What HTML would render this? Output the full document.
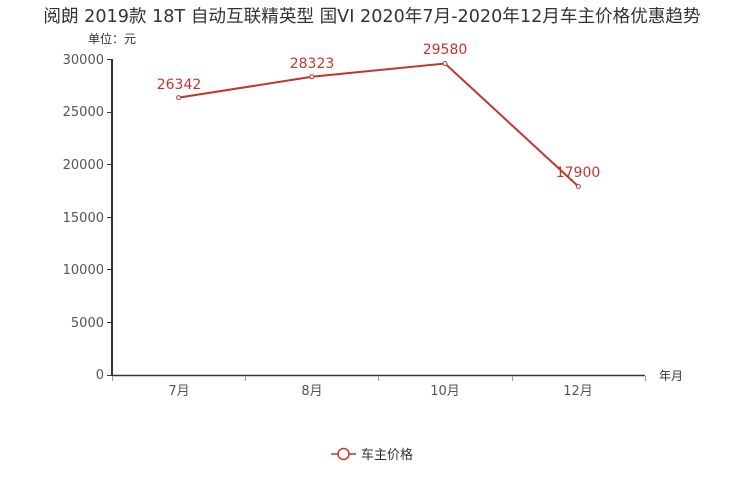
<!DOCTYPE html>
<html><head><meta charset="utf-8"><style>body{margin:0;background:#fff}</style></head><body>
<svg width="744" height="496" xmlns="http://www.w3.org/2000/svg" font-family="'DejaVu Sans','Noto Sans CJK SC',sans-serif">
<text x="372" y="22" text-anchor="middle" font-size="17.6" fill="#333">阅朗 2019款 18T 自动互联精英型 国VI 2020年7月-2020年12月车主价格优惠趋势</text>
<text x="112" y="43" text-anchor="middle" font-size="12" fill="#333">单位：元</text>
<g font-size="13" fill="#555" text-anchor="end">
<text x="104" y="64">30000</text><text x="104" y="116">25000</text><text x="104" y="169">20000</text>
<text x="104" y="222">15000</text><text x="104" y="274">10000</text><text x="104" y="327">5000</text><text x="104" y="379">0</text>
</g>
<g stroke="#333" stroke-width="1">
<line x1="107" y1="59.5" x2="112" y2="59.5"/><line x1="107" y1="112.5" x2="112" y2="112.5"/><line x1="107" y1="164.5" x2="112" y2="164.5"/>
<line x1="107" y1="217.5" x2="112" y2="217.5"/><line x1="107" y1="269.5" x2="112" y2="269.5"/><line x1="107" y1="322.5" x2="112" y2="322.5"/>
<line x1="107" y1="375.5" x2="112" y2="375.5"/>
</g>
<line x1="112" y1="59" x2="112" y2="376" stroke="#333" stroke-width="2"/>
<line x1="112" y1="375.5" x2="645" y2="375.5" stroke="#333" stroke-width="1.5"/>
<g stroke="#999" stroke-width="1">
<line x1="112.5" y1="376" x2="112.5" y2="381"/><line x1="245.5" y1="376" x2="245.5" y2="381"/><line x1="378.5" y1="376" x2="378.5" y2="381"/>
<line x1="512.5" y1="376" x2="512.5" y2="381"/><line x1="645.5" y1="376" x2="645.5" y2="381"/>
</g>
<g font-size="13" fill="#555" text-anchor="middle">
<text x="179" y="395">7月</text><text x="312" y="395">8月</text><text x="445" y="395">10月</text><text x="578" y="395">12月</text>
</g>
<text x="659" y="380" font-size="12" fill="#333">年月</text>
<polyline points="178.6,97.6 311.9,76.8 445,63.5 578.4,186.5" fill="none" stroke="#c23531" stroke-width="2"/>
<g fill="#fff" stroke="#c23531" stroke-width="1">
<circle cx="178.6" cy="97.6" r="2"/><circle cx="311.9" cy="76.8" r="2"/><circle cx="445" cy="63.5" r="2"/><circle cx="578.4" cy="186.5" r="2"/>
</g>
<g font-size="14" fill="#c23531" text-anchor="middle">
<text x="179" y="89">26342</text><text x="312" y="68">28323</text><text x="445" y="54">29580</text><text x="578" y="177">17900</text>
</g>
<line x1="331" y1="454" x2="356" y2="454" stroke="#c23531" stroke-width="1.5"/>
<circle cx="343.5" cy="454" r="5.5" fill="#fff" stroke="#c23531" stroke-width="1.5"/>
<text x="361" y="459" font-size="13" fill="#333">车主价格</text>
</svg>
</body></html>
